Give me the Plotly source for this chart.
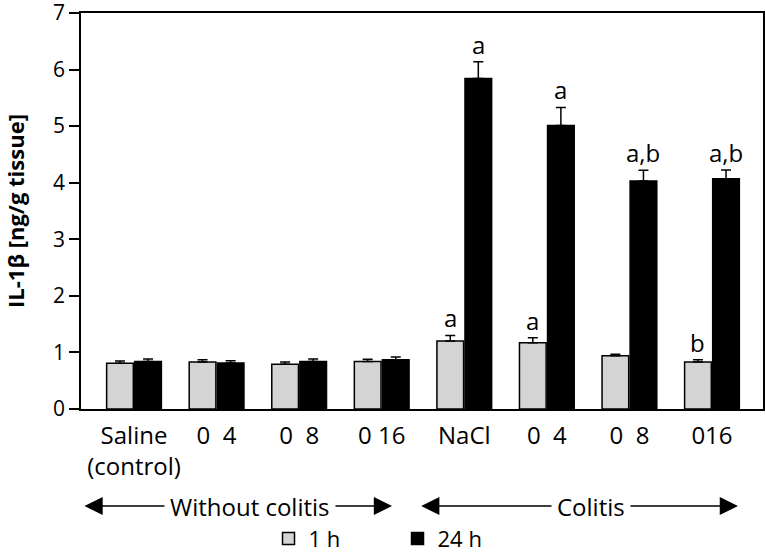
import plotly.graph_objects as go

categories = ["Saline<br>(control)", "0\u00a0\u00a04", "0\u00a0\u00a08", "0\u00a016",
              "NaCl", "0\u00a0\u00a04", "0\u00a0\u00a08", "016"]
h1 = [0.81, 0.83, 0.79, 0.84, 1.20, 1.17, 0.94, 0.83]
h1_err = [0.04, 0.04, 0.04, 0.04, 0.10, 0.09, 0.03, 0.04]
h24 = [0.84, 0.815, 0.84, 0.87, 5.84, 5.01, 4.03, 4.07]
h24_err = [0.045, 0.04, 0.045, 0.05, 0.30, 0.32, 0.19, 0.155]
h1_sig = ["", "", "", "", "a", "a", "", "b"]
h24_sig = ["", "", "", "", "a", "a", "a,b", "a,b"]
series_names = ["1 h", "24 h"]
y_ticks = [0, 1, 2, 3, 4, 5, 6, 7]

FONT = "Open Sans"
FS = 24
x = list(range(len(categories)))
BARGAP = 0.32
slot = (1 - BARGAP) / 2

fig = go.Figure()
fig.add_trace(go.Bar(
    x=x, y=h1, name=series_names[0],
    marker=dict(color="#d4d4d4", line=dict(color="black", width=1.5)),
    error_y=dict(type="data", symmetric=False, array=h1_err,
                 arrayminus=[0] * len(h1), color="black", thickness=1.5, width=5),
))
fig.add_trace(go.Bar(
    x=x, y=h24, name=series_names[1],
    marker=dict(color="black", line=dict(color="black", width=1.5)),
    error_y=dict(type="data", symmetric=False, array=h24_err,
                 arrayminus=[0] * len(h24), color="black", thickness=1.5, width=5),
))

annotations = []
for i in range(len(categories)):
    for vals, errs, sig, off in ((h1, h1_err, h1_sig, -slot / 2), (h24, h24_err, h24_sig, slot / 2)):
        if sig[i]:
            annotations.append(dict(
                x=i + off, y=vals[i] + errs[i], xref="x", yref="y",
                text=sig[i], showarrow=False, xanchor="center", yanchor="bottom", yshift=-1,
                font=dict(family=FONT, size=FS, color="black"),
            ))

# group arrows
groups = [("Without colitis", -0.618, 3.125, 1.405), ("Colitis", 3.46, 7.315, 5.54)]
for label, x0, x1, xc in groups:
    annotations.append(dict(
        x=x1, y=-0.245, xref="x", yref="paper", ax=x0, ay=0, axref="x", ayref="pixel",
        text="", showarrow=True, arrowhead=2, arrowside="end+start",
        arrowsize=2.6, arrowwidth=1.4, arrowcolor="black",
    ))
    annotations.append(dict(
        x=xc, y=-0.245, xref="x", yref="paper", text=label, showarrow=False,
        xanchor="center", yanchor="middle",
        bgcolor="white", borderpad=5,
        font=dict(family=FONT, size=FS, color="black"),
    ))

fig.update_layout(
    width=765, height=553,
    margin=dict(l=81, r=2, t=13, b=144, autoexpand=False),
    paper_bgcolor="white", plot_bgcolor="white",
    barmode="group", bargap=BARGAP, bargroupgap=0.05,
    font=dict(family=FONT, size=FS, color="black"),
    showlegend=True,
    legend=dict(orientation="h", xref="container", yref="container",
                x=0.351, xanchor="left", y=0.026, yanchor="middle",
                font=dict(family=FONT, size=22), entrywidth=84, bgcolor="rgba(0,0,0,0)"),
    annotations=annotations,
    xaxis=dict(range=[-0.642, 7.618], tickvals=x, ticktext=categories, automargin=False,
               showline=True, linecolor="black", linewidth=1.5, mirror=True,
               ticks="outside", ticklen=4, tickcolor="rgba(0,0,0,0)",
               showgrid=False, zeroline=False, tickfont=dict(size=FS)),
    yaxis=dict(range=[0, 7], tickvals=y_ticks, automargin=False, ticklabeloverflow="allow",
               showline=True, linecolor="black", linewidth=1.5, mirror=True,
               ticks="outside", ticklen=10, tickwidth=1.5, tickcolor="black",
               showgrid=False, zeroline=False, tickfont=dict(size=21),
               title=dict(text="<b>IL-1β [ng/g tissue]</b>", standoff=34,
                          font=dict(family=FONT, size=22))),
)

fig.write_html("out.html", config={"displayModeBar": False},
               post_script="document.body.style.margin='0';document.body.style.overflow='hidden';")
